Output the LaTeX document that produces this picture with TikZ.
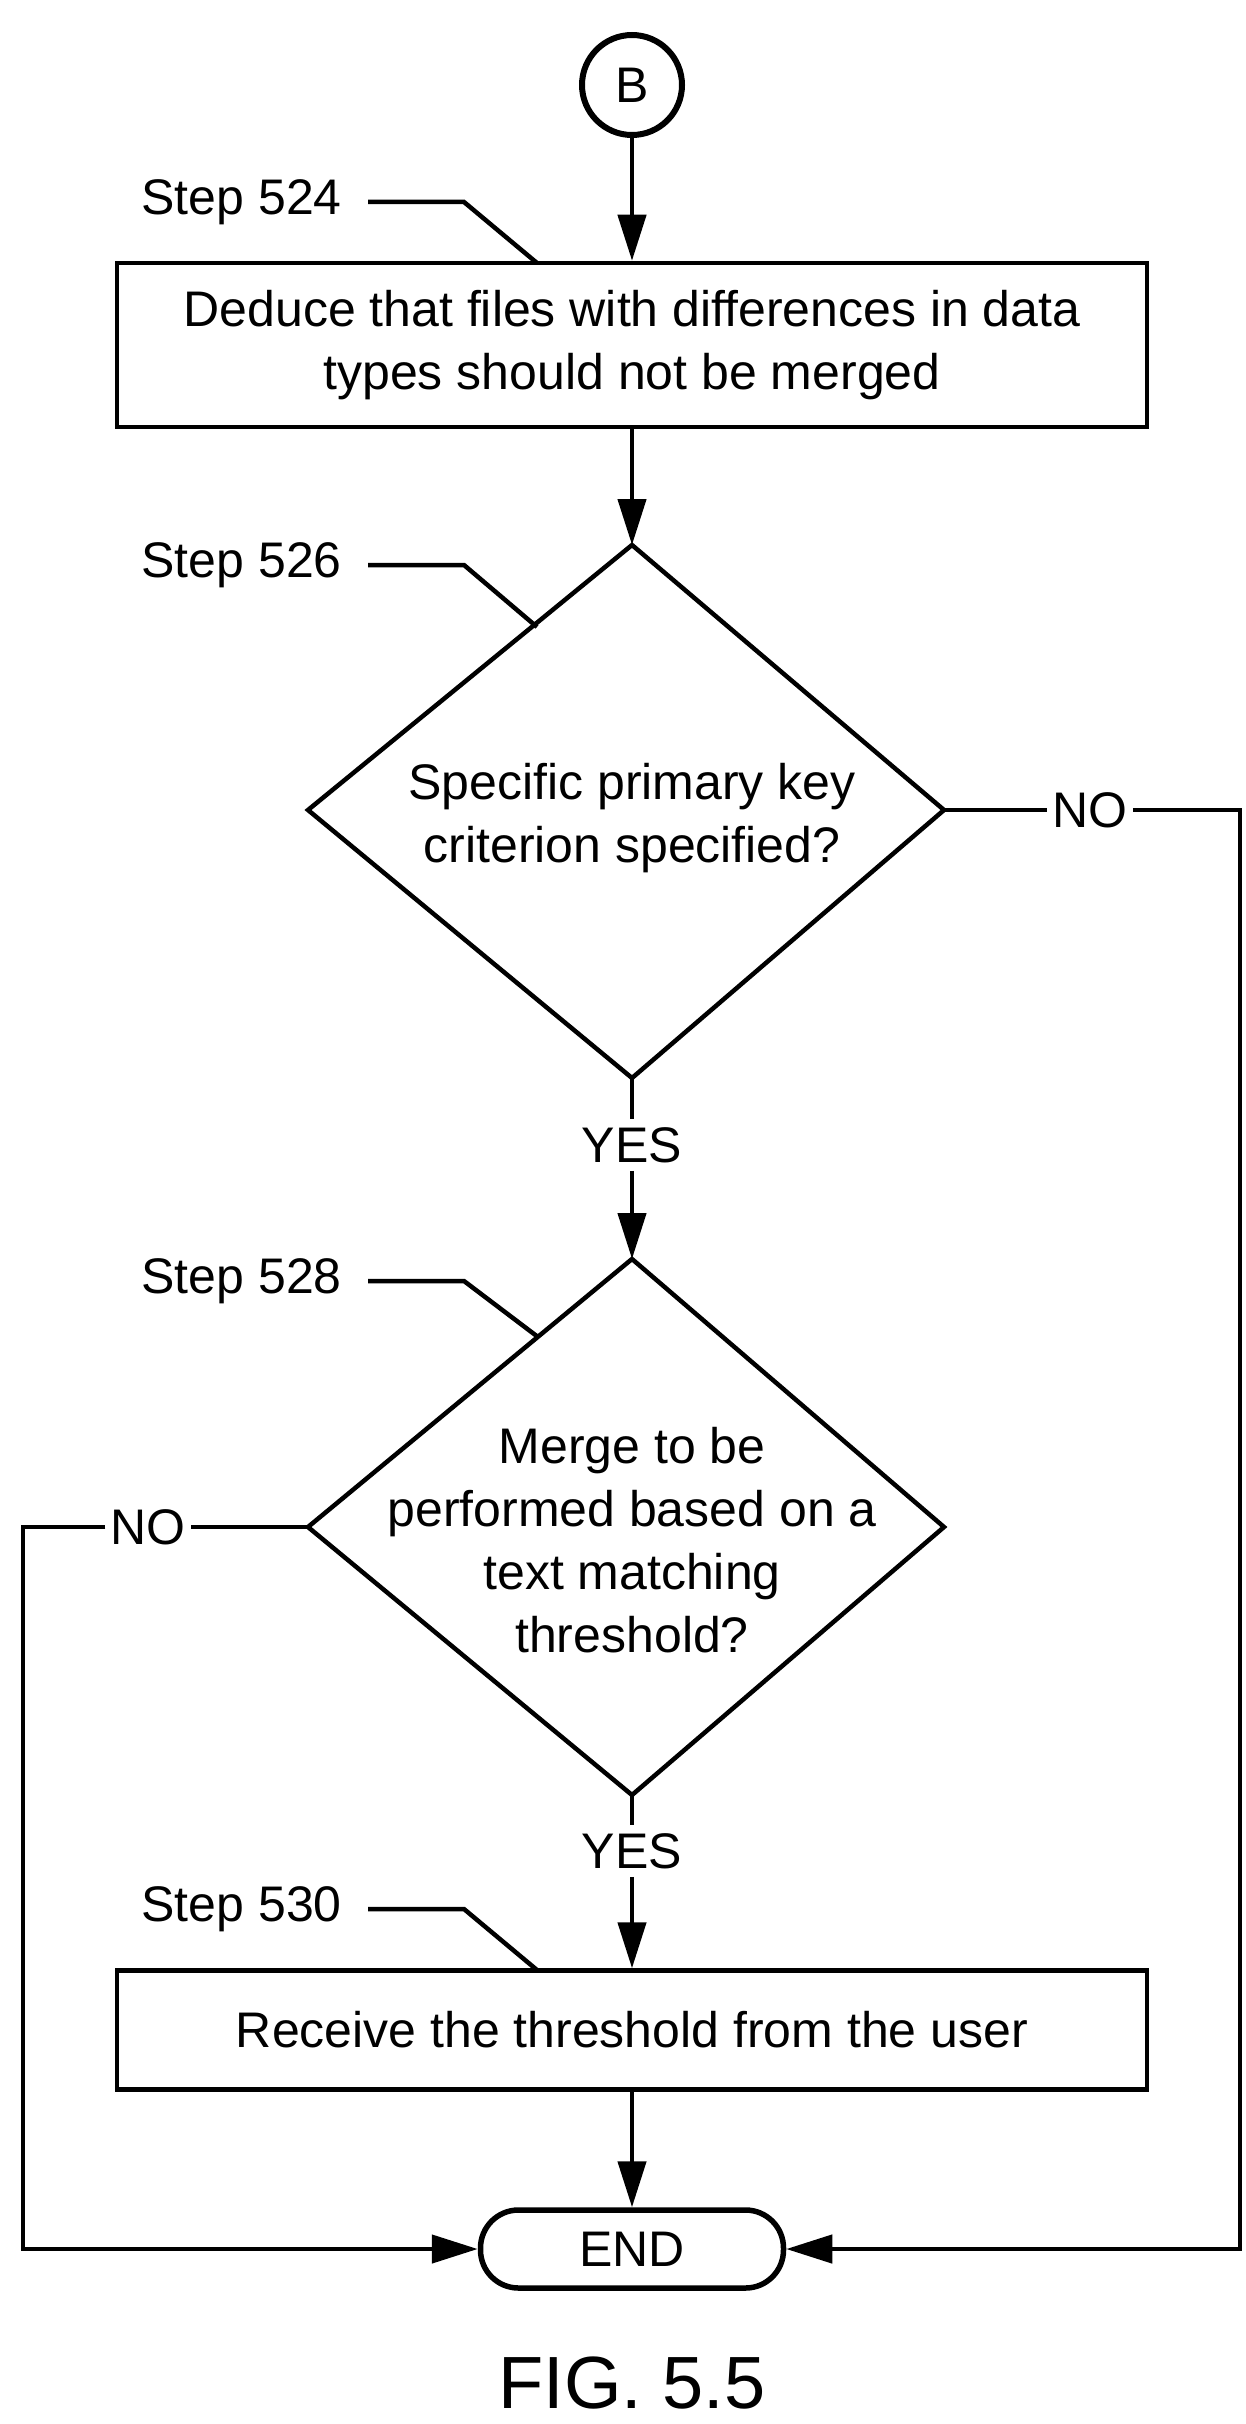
\documentclass[tikz,border=0pt]{standalone}
\usepackage{fontspec}
\setmainfont{Liberation Sans}
\usetikzlibrary{arrows.meta}
\begin{document}
\begin{tikzpicture}[x=1pt,y=-1pt,
  line width=4.5pt,
  txt/.style={font=\fontsize{50}{63}\selectfont,align=center,inner sep=0pt},
  arr/.style={-{Triangle[length=46pt,width=28pt]}},
  box/.style={draw,minimum width=1030pt,inner sep=0pt}]
\useasboundingbox (0,0) rectangle (1246,2424);
\node[draw,circle,line width=6pt,minimum size=100pt,inner sep=0pt,txt] (B) at (632,85) {B};
\node[box,minimum height=164pt,txt] (b1) at (632,345) {Deduce that files with differences in data\\types should not be merged};
\coordinate (d1t) at (632,545); \coordinate (d1b) at (632,1078);
\coordinate (d1l) at (308,810); \coordinate (d1r) at (944,810);
\draw[line join=miter] (d1t)--(d1r)--(d1b)--(d1l)--cycle;
\node[txt] (d1) at (632,818) {Specific primary key\\criterion specified?};
\coordinate (d2t) at (632,1259); \coordinate (d2b) at (632,1795);
\coordinate (d2l) at (308,1527); \coordinate (d2r) at (944,1527);
\draw[line join=miter] (d2t)--(d2r)--(d2b)--(d2l)--cycle;
\node[txt] (d2) at (632,1540) {Merge to be\\performed based on a\\text matching\\threshold?};
\node[box,minimum height=119pt,txt] (b2) at (632,2030) {Receive the threshold from the user};
\node[draw,rounded corners=38pt,line width=5.5pt,minimum width=303pt,minimum height=78pt,inner sep=0pt,txt] (end) at (632,2249) {END};
\node[txt] (fig) at (632,2383) {\fontsize{74}{80}\selectfont FIG. 5.5};
% step labels
\node[txt,anchor=east] (s524) at (344,202) {Step 524};
\node[txt,anchor=east] (s526) at (344,565) {Step 526};
\node[txt,anchor=east] (s528) at (344,1281) {Step 528};
\node[txt,anchor=east] (s530) at (344,1909) {Step 530};
\draw (368,202) -- (464,202) -- (537,263);
\draw (368,565) -- (464,565) -- (537,627);
\draw (368,1281) -- (464,1281) -- (538,1337);
\draw (368,1909) -- (464,1909) -- (537,1970);
% flow
\draw[arr] (B) -- (b1);
\draw[arr] (b1) -- (d1t);
\node[txt,fill=white,inner sep=6pt] (y1) at (632,1145) {YES};
\draw (d1b) -- (y1);
\draw[arr] (y1) -- (d2t);
\node[txt,fill=white,inner sep=6pt] (y2) at (632,1851) {YES};
\draw (d2b) -- (y2);
\draw[arr] (y2) -- (b2);
\draw[arr] (b2) -- (end);
\node[txt,fill=white,inner sep=3pt] (n1) at (1090,810) {NO};
\draw (d1r) -- (n1);
\draw[arr] (n1) -- (1240,810) -- (1240,2249) -- (end);
\node[txt,fill=white,inner sep=3pt] (n2) at (148,1527) {NO};
\draw (d2l) -- (n2);
\draw[arr] (n2) -- (23,1527) -- (23,2249) -- (end);
\end{tikzpicture}
\end{document}
